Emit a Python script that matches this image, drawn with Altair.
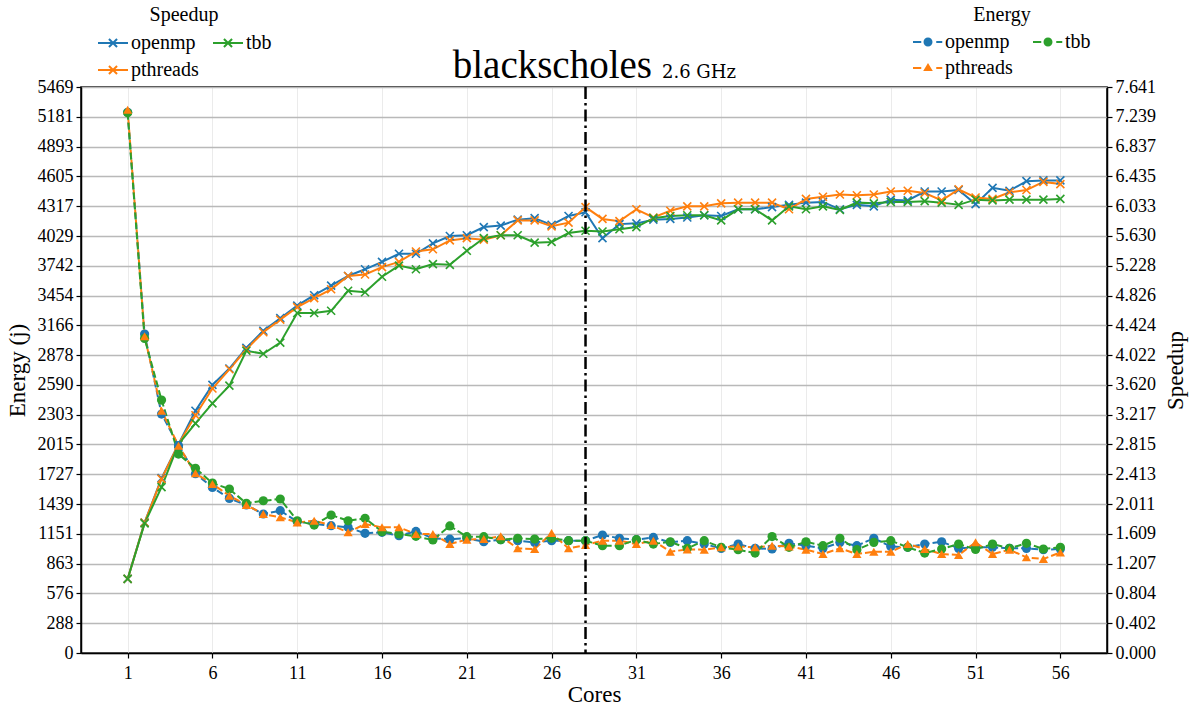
import altair as alt
import pandas as pd

# ---- data -----------------------------------------------------------------
cores = list(range(1, 57))
impls = ["openmp", "pthreads", "tbb"]

speedup_openmp = [
    1.00, 1.76, 2.36, 2.82, 3.27, 3.62, 3.84, 4.12, 4.35, 4.52,
    4.69, 4.83, 4.96, 5.09, 5.18, 5.28, 5.39, 5.39, 5.53, 5.63,
    5.64, 5.75, 5.77, 5.85, 5.87, 5.78, 5.90, 5.95, 5.60, 5.79,
    5.80, 5.85, 5.86, 5.88, 5.91, 5.90, 5.99, 5.99, 6.02, 6.05,
    6.08, 6.09, 5.99, 6.05, 6.03, 6.12, 6.11, 6.23, 6.23, 6.25,
    6.06, 6.28, 6.24, 6.37, 6.38, 6.38,
]
speedup_pthreads = [
    1.00, 1.76, 2.35, 2.82, 3.21, 3.57, 3.83, 4.10, 4.33, 4.50,
    4.67, 4.79, 4.91, 5.09, 5.11, 5.21, 5.28, 5.42, 5.45, 5.57,
    5.60, 5.58, 5.64, 5.84, 5.84, 5.76, 5.81, 6.02, 5.86, 5.83,
    5.99, 5.88, 5.97, 6.03, 6.03, 6.07, 6.08, 6.08, 6.08, 5.99,
    6.13, 6.16, 6.19, 6.18, 6.19, 6.23, 6.24, 6.21, 6.11, 6.26,
    6.15, 6.13, 6.22, 6.25, 6.36, 6.33,
]
speedup_tbb = [
    1.00, 1.75, 2.24, 2.82, 3.10, 3.37, 3.61, 4.08, 4.04, 4.19,
    4.59, 4.59, 4.62, 4.89, 4.87, 5.08, 5.23, 5.18, 5.25, 5.24,
    5.43, 5.60, 5.64, 5.64, 5.54, 5.55, 5.67, 5.70, 5.69, 5.72,
    5.75, 5.87, 5.90, 5.91, 5.91, 5.84, 5.99, 5.99, 5.84, 6.03,
    5.99, 6.03, 5.98, 6.08, 6.07, 6.09, 6.09, 6.10, 6.08, 6.05,
    6.12, 6.11, 6.12, 6.12, 6.12, 6.13,
]

energy_openmp = [
    5225, 3082, 2309, 2003, 1733, 1600, 1494, 1430, 1343, 1375,
    1270, 1246, 1230, 1214, 1156, 1166, 1133, 1175, 1108, 1100,
    1108, 1075, 1095, 1085, 1069, 1085, 1085, 1085, 1140, 1108,
    1095, 1117, 1069, 1085, 1053, 1011, 1053, 1011, 1005, 1060,
    1037, 1011, 1069, 1037, 1108, 1030, 1021, 1053, 1075, 1011,
    1021, 1021, 1011, 1011, 998, 1005,
]
energy_pthreads = [
    5250, 3060, 2341, 2003, 1736, 1633, 1520, 1430, 1343, 1311,
    1262, 1278, 1236, 1166, 1246, 1214, 1214, 1150, 1150, 1053,
    1095, 1101, 1127, 1011, 1005, 1159, 1011, 1043, 1085, 1085,
    1053, 1085, 979, 1001, 998, 1021, 1030, 1021, 1037, 1030,
    998, 956, 1011, 956, 979, 979, 1053, 1005, 956, 947,
    1069, 956, 998, 924, 908, 972,
]
energy_tbb = [
    5220, 3040, 2444, 1922, 1784, 1642, 1584, 1446, 1471, 1488,
    1278, 1236, 1333, 1278, 1301, 1172, 1150, 1127, 1092, 1228,
    1124, 1124, 1095, 1108, 1101, 1108, 1085, 1085, 1037, 1037,
    1095, 1053, 1075, 1011, 1085, 1021, 998, 966, 1125, 1021,
    1075, 1037, 1108, 998, 1069, 1085, 1021, 966, 1005, 1053,
    1001, 1053, 1011, 1060, 1005, 1021,
]

physical_cores = [28]

core_ticks = [1, 6, 11, 16, 21, 26, 31, 36, 41, 46, 51, 56]
energy_ticks = [0, 288, 576, 863, 1151, 1439, 1727, 2015, 2303, 2590,
                2878, 3166, 3454, 3742, 4029, 4317, 4605, 4893, 5181, 5469]
speedup_ticks = [0.000, 0.402, 0.804, 1.207, 1.609, 2.011, 2.413, 2.815,
                 3.217, 3.620, 4.022, 4.424, 4.826, 5.228, 5.630, 6.033,
                 6.435, 6.837, 7.239, 7.641]

title_main = ["blackscholes"]
title_freq = ["2.6 GHz"]

# ---- long table -------------------------------------------------------------
speedups = {"openmp": speedup_openmp, "pthreads": speedup_pthreads, "tbb": speedup_tbb}
energies = {"openmp": energy_openmp, "pthreads": energy_pthreads, "tbb": energy_tbb}
rows = []
for impl in impls:
    for c, s, e in zip(cores, speedups[impl], energies[impl]):
        rows.append({"core": c, "impl": impl, "speedup": s, "energy": e})
df = pd.DataFrame(rows)

# ---- styling ------------------------------------------------------------------
FONT = "Liberation Serif"
impl_colors = ["#1f77b4", "#ff7f0e", "#2ca02c"]  # openmp, pthreads, tbb

W, H = 1026, 566

x_scale = alt.Scale(domain=[-1.75, 58.75], nice=False, zero=False)
x_axis = alt.Axis(values=core_ticks, title="Cores", grid=True,
                  gridColor="#ebebeb", gridWidth=1, tickSize=5,
                  labelPadding=6, titlePadding=1, format="d")
e_scale = alt.Scale(domain=[0, 5469], nice=False, zero=True)
s_scale = alt.Scale(domain=[0, 7.641], nice=False, zero=True)


def x_enc(show=True):
    return alt.X("core:Q", scale=x_scale, axis=x_axis if show else None)


def y_energy(show=False):
    axis = alt.Axis(orient="left", values=energy_ticks, format="d",
                    title="Energy (j)", grid=True, gridColor="#b9b9b9",
                    gridWidth=1.6, tickSize=5, labelPadding=3,
                    titlePadding=8) if show else None
    return alt.Y("energy:Q", scale=e_scale, axis=axis)


def y_speed(show=False):
    axis = alt.Axis(orient="right", values=speedup_ticks, format=".3f",
                    title="Speedup", grid=False, tickSize=5, labelPadding=3,
                    titleAngle=270, titleBaseline="middle", titleAlign="center",
                    titleX=68, titleY=H / 2) if show else None
    return alt.Y("speedup:Q", scale=s_scale, axis=axis)


def color_enc(legend=alt.Undefined):
    return alt.Color("impl:N", scale=alt.Scale(range=impl_colors), legend=legend)


legend_common = dict(
    orient="none", columns=2, rowPadding=1,
    titleAnchor="middle", titleFont=FONT, titleFontSize=20,
    titleFontWeight="normal", titleColor="black", titlePadding=2,
    labelFont=FONT, labelFontSize=20, labelColor="black", labelOffset=2,
    symbolSize=900, padding=0, legendY=-82, symbolOpacity=1,
)

base = alt.Chart(df)

# speedup: solid lines with x markers
x_path = "M-1,-1L1,1M-1,1L1,-1"
speed_key = "M-1,0L1,0M-0.27,-0.27L0.27,0.27M-0.27,0.27L0.27,-0.27"
speed_line = base.mark_line(strokeWidth=2).encode(
    x=x_enc(), y=y_speed(True),
    color=color_enc(alt.Legend(title="Speedup", symbolType=speed_key,
                               legendX=16, symbolStrokeWidth=2,
                               columnPadding=10, **legend_common)),
)
speed_pts = base.mark_point(shape=x_path, size=64, strokeWidth=1.6,
                            filled=False, opacity=1).encode(
    x=x_enc(), y=y_speed(), color=color_enc(),
)

# energy: dashed lines with circle / triangle markers
energy_line = base.mark_line(strokeWidth=2, strokeDash=[7, 3]).encode(
    x=x_enc(), y=y_energy(True), color=color_enc(),
)
energy_circ = base.mark_circle(size=85, opacity=1).encode(
    x=x_enc(), y=y_energy(), color=color_enc(),
).transform_filter("datum.impl != 'pthreads'")
energy_tri = base.mark_point(shape="triangle-up", filled=True, size=85,
                             opacity=1).encode(
    x=x_enc(), y=y_energy(), color=color_enc(),
).transform_filter("datum.impl == 'pthreads'")

# legend keys for energy: two short dash bars around the marker
dashes = "M-1,-0.07H-0.45V0.07H-1ZM0.55,-0.07H0.95V0.07H0.55Z"
dot_key = dashes + "M-0.3,0A0.3,0.3,0,1,0,0.3,0A0.3,0.3,0,1,0,-0.3,0Z"
tri_key = dashes + "M0,-0.34L0.32,0.2L-0.32,0.2Z"
energy_legend = alt.Legend(title="Energy", legendX=832, symbolStrokeWidth=0,
                           symbolFillColor=impl_colors[0], columnPadding=20,
                           **legend_common)
energy_key = base.mark_point(filled=True, opacity=0).encode(
    x=x_enc(), y=y_energy(),
    fill=alt.Fill("impl:N", scale=alt.Scale(domain=impls, range=impl_colors),
                  legend=energy_legend),
    shape=alt.Shape("impl:N",
                    scale=alt.Scale(domain=impls,
                                    range=[dot_key, tri_key, dot_key]),
                    legend=energy_legend),
)

# dash-dot marker at the physical core count
vline = alt.Chart(pd.DataFrame({"core": physical_cores})).mark_rule(
    color="black", strokeWidth=2.5, strokeDash=[12, 4, 2.5, 4]
).encode(x=x_enc())

# title pieces
title_a = alt.Chart(pd.DataFrame({"t": title_main})).mark_text(
    font=FONT, fontSize=39, align="right", baseline="alphabetic", color="black"
).encode(text="t:N", x=alt.value(571), y=alt.value(-9))
title_b = alt.Chart(pd.DataFrame({"t": title_freq})).mark_text(
    font="DejaVu Serif", fontSize=18, align="left", baseline="alphabetic",
    color="black"
).encode(text="t:N", x=alt.value(581), y=alt.value(-9))

chart = alt.layer(
    speed_line, speed_pts, energy_line, energy_circ, energy_tri, energy_key,
    vline, title_a, title_b,
).resolve_scale(
    y="independent"
).properties(
    width=W, height=H,
    autosize=alt.AutoSizeParams(type="none"),
    padding={"left": 81, "top": 87, "right": 83, "bottom": 53},
).configure_view(
    stroke="black", strokeWidth=1.5
).configure_axis(
    labelFont=FONT, labelFontSize=18, labelColor="black",
    titleFont=FONT, titleFontSize=23, titleFontWeight="normal",
    titleColor="black", domainColor="black", domainWidth=1.5,
    tickColor="black", tickWidth=1.2,
)

chart.save("out.html", embed_options={"renderer": "svg", "actions": False})
